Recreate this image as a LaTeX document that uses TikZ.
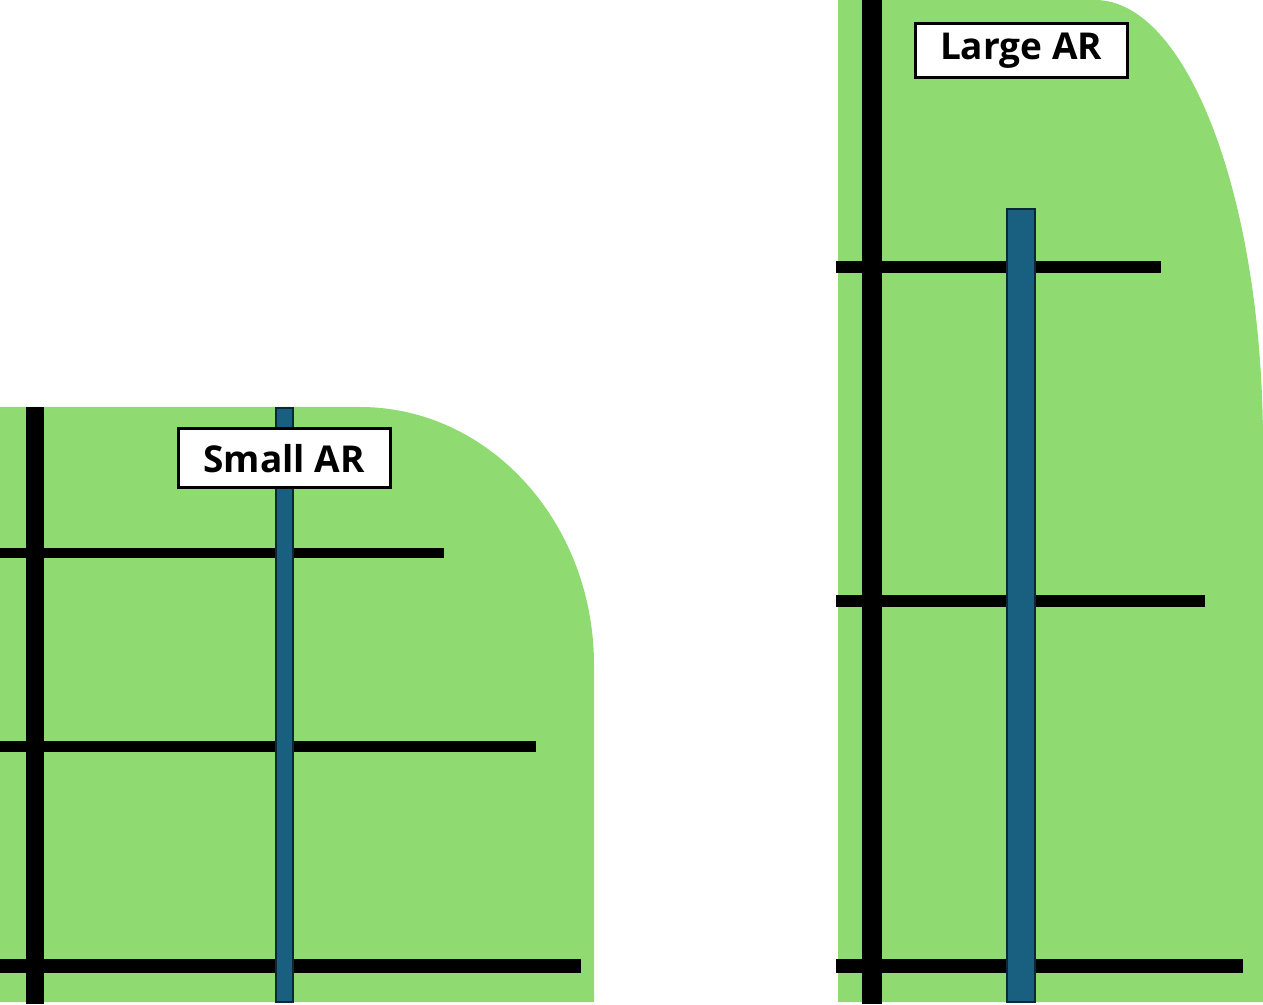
\documentclass[tikz,border=0pt]{standalone}
\usepackage{fontspec}
\newfontfamily\lblfont{Open Sans Bold}
\definecolor{leafgreen}{RGB}{143,219,114}
\definecolor{barblue}{RGB}{24,95,128}
\definecolor{bardark}{RGB}{10,40,55}
\begin{document}
\begin{tikzpicture}[x=1pt,y=1pt,
  region/.style={fill=leafgreen,draw=none},
  beam/.style={fill=black,draw=none},
  bluebar/.style={fill=barblue,draw=bardark,line width=2.5pt},
  tag/.style={draw=black,line width=3pt,fill=white,inner sep=0pt,font=\lblfont\fontsize{37}{40}\selectfont}]
\useasboundingbox (0,0) rectangle (1263,1004);
% left region
\fill[region] (0,2) -- (0,597) -- (360,597) arc[start angle=90,end angle=0,x radius=234,y radius=258] -- (594,2) -- cycle;
% right region
\fill[region] (838,2) -- (838,1004) -- (1095,1004) arc[start angle=90,end angle=0,x radius=168,y radius=445] -- (1263,2) -- cycle;
% left beams
\fill[beam] (0,446) rectangle (444,456);
\fill[beam] (0,252) rectangle (536,263);
\fill[beam] (0,31) rectangle (581,45);
\fill[beam] (26,0) rectangle (44,597);
% right beams
\fill[beam] (836,731) rectangle (1161,743);
\fill[beam] (836,397) rectangle (1205,409);
\fill[beam] (836,31) rectangle (1243,45);
\fill[beam] (862,0) rectangle (882,1004);
% blue bars
\draw[bluebar] (276,2) rectangle (293,596);
\draw[bluebar] (1007,2) rectangle (1035,795);
% labels
\node[tag,minimum width=212pt,minimum height=59pt] (small) at (284,545.5) {Small AR};
\node[tag,minimum width=212pt,minimum height=54pt] (large) at (1021,953) {Large AR};
\end{tikzpicture}
\end{document}
